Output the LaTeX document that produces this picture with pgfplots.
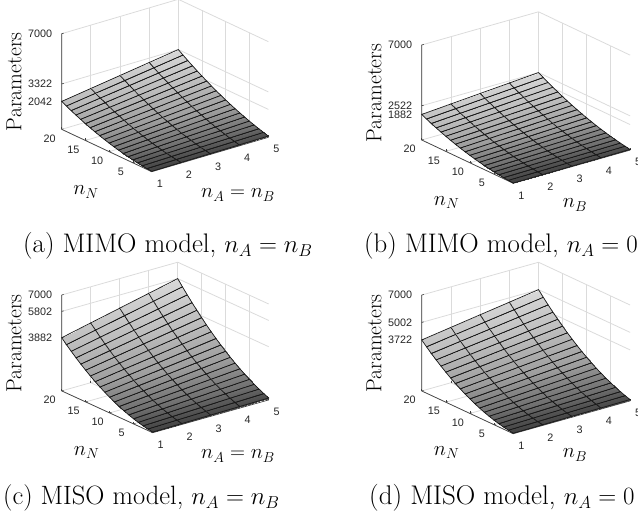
\documentclass[border=0pt]{standalone}
\usepackage{fontspec}
\usepackage{pgfplots}
\pgfplotsset{compat=1.18}
\newfontfamily\arialf{Liberation Sans}
\definecolor{axc}{gray}{0.25}
\newcommand\ztk[1]{\addplot3[axc,line width=0.6pt,forget plot] coordinates {(1,20,#1)(1.07,20,#1)};}
\pgfplotsset{
  colormap={mygray}{gray(0cm)=(0.26); gray(1cm)=(0.44); gray(3cm)=(0.62); gray(6cm)=(0.74); gray(10cm)=(0.85)},
  panel/.style={
    clip=false,
    /pgf/number format/assume math mode=true,
    /pgf/number format/.cd,set thousands separator={},/pgfplots/.cd,
    xmin=1,xmax=5,ymin=1,ymax=20,zmin=0,zmax=7000,
    xtick={1,2,3,4,5},ytick={5,10,15,20},
    xtick pos=lower,ytick pos=lower,ztick pos=left,
    grid=major,
    grid style={gray!28,line width=0.8pt},
    axis line style={draw=none},
    major tick style={axc,line width=0.5pt},
    major tick length=2pt,
    ztick style={draw=none},
    tick label style={font=\arialf\fontsize{10.8}{10.8}\selectfont,text=black!85},
    xticklabel style={anchor=center,xshift=8pt,yshift=-12pt},
    yticklabel style={anchor=center,xshift=-12pt,yshift=-9pt},
    zticklabel style={anchor=east,xshift=-6pt},
    anchor=south west,
  },
  surfst/.style={surf,shader=faceted interp,faceted color=black!90,line width=0.7pt,mesh/cols=5,point meta=z},
}
\tikzset{
  ax3/.style={axc,line width=0.7pt},
  capt/.style={anchor=base west,inner sep=0pt},
  lab/.style={anchor=center,inner sep=0pt,font=\fontsize{20}{20}\selectfont},
  par/.style={anchor=center,inner sep=0pt,rotate=90,font=\fontsize{21.8}{21.8}\selectfont},
}
\begin{document}
\begin{tikzpicture}[x=1pt,y=1pt]
\path[use as bounding box] (0,0) rectangle (638,512);
\clip (0,0) rectangle (638,512);

% (a)
\begin{axis}[panel,at={(61.7pt,340.3pt)},x={(29.15pt,8.6pt)},y={(-4.74pt,2.23pt)},z={(0pt,0.01366pt)},ztick={2042,3322,7000}]
\addplot3[ax3,forget plot] coordinates {(1,20,7000)(1,20,0)(1,1,0)(5,1,0)};
\ztk{2042}\ztk{3322}\ztk{7000}
\addplot3[surfst] coordinates {
(1,1,28)(2,1,44)(3,1,60)(4,1,76)(5,1,92)
(1,2,62)(2,2,94)(3,2,126)(4,2,158)(5,2,190)
(1,3,104)(2,3,152)(3,3,200)(4,3,248)(5,3,296)
(1,4,154)(2,4,218)(3,4,282)(4,4,346)(5,4,410)
(1,5,212)(2,5,292)(3,5,372)(4,5,452)(5,5,532)
(1,6,278)(2,6,374)(3,6,470)(4,6,566)(5,6,662)
(1,7,352)(2,7,464)(3,7,576)(4,7,688)(5,7,800)
(1,8,434)(2,8,562)(3,8,690)(4,8,818)(5,8,946)
(1,9,524)(2,9,668)(3,9,812)(4,9,956)(5,9,1100)
(1,10,622)(2,10,782)(3,10,942)(4,10,1102)(5,10,1262)
(1,11,728)(2,11,904)(3,11,1080)(4,11,1256)(5,11,1432)
(1,12,842)(2,12,1034)(3,12,1226)(4,12,1418)(5,12,1610)
(1,13,964)(2,13,1172)(3,13,1380)(4,13,1588)(5,13,1796)
(1,14,1094)(2,14,1318)(3,14,1542)(4,14,1766)(5,14,1990)
(1,15,1232)(2,15,1472)(3,15,1712)(4,15,1952)(5,15,2192)
(1,16,1378)(2,16,1634)(3,16,1890)(4,16,2146)(5,16,2402)
(1,17,1532)(2,17,1804)(3,17,2076)(4,17,2348)(5,17,2620)
(1,18,1694)(2,18,1982)(3,18,2270)(4,18,2558)(5,18,2846)
(1,19,1864)(2,19,2168)(3,19,2472)(4,19,2776)(5,19,3080)
(1,20,2042)(2,20,2362)(3,20,2682)(4,20,3002)(5,20,3322)
};
\end{axis}

% (b)
\begin{axis}[panel,at={(421.7pt,328.7pt)},x={(29.2pt,8.3pt)},y={(-4.82pt,2.28pt)},z={(0pt,0.01357pt)},ztick={1882,2522,7000}]
\addplot3[ax3,forget plot] coordinates {(1,20,7000)(1,20,0)(1,1,0)(5,1,0)};
\ztk{1882}\ztk{2522}\ztk{7000}
\addplot3[surfst] coordinates {
(1,1,20)(2,1,28)(3,1,36)(4,1,44)(5,1,52)
(1,2,46)(2,2,62)(3,2,78)(4,2,94)(5,2,110)
(1,3,80)(2,3,104)(3,3,128)(4,3,152)(5,3,176)
(1,4,122)(2,4,154)(3,4,186)(4,4,218)(5,4,250)
(1,5,172)(2,5,212)(3,5,252)(4,5,292)(5,5,332)
(1,6,230)(2,6,278)(3,6,326)(4,6,374)(5,6,422)
(1,7,296)(2,7,352)(3,7,408)(4,7,464)(5,7,520)
(1,8,370)(2,8,434)(3,8,498)(4,8,562)(5,8,626)
(1,9,452)(2,9,524)(3,9,596)(4,9,668)(5,9,740)
(1,10,542)(2,10,622)(3,10,702)(4,10,782)(5,10,862)
(1,11,640)(2,11,728)(3,11,816)(4,11,904)(5,11,992)
(1,12,746)(2,12,842)(3,12,938)(4,12,1034)(5,12,1130)
(1,13,860)(2,13,964)(3,13,1068)(4,13,1172)(5,13,1276)
(1,14,982)(2,14,1094)(3,14,1206)(4,14,1318)(5,14,1430)
(1,15,1112)(2,15,1232)(3,15,1352)(4,15,1472)(5,15,1592)
(1,16,1250)(2,16,1378)(3,16,1506)(4,16,1634)(5,16,1762)
(1,17,1396)(2,17,1532)(3,17,1668)(4,17,1804)(5,17,1940)
(1,18,1550)(2,18,1694)(3,18,1838)(4,18,1982)(5,18,2126)
(1,19,1712)(2,19,1864)(3,19,2016)(4,19,2168)(5,19,2320)
(1,20,1882)(2,20,2042)(3,20,2202)(4,20,2362)(5,20,2522)
};
\end{axis}

% (c)
\begin{axis}[panel,at={(61.7pt,79.3pt)},x={(29.0pt,8.2pt)},y={(-4.79pt,2.2pt)},z={(0pt,0.01371pt)},ztick={3882,5802,7000}]
\addplot3[ax3,forget plot] coordinates {(1,20,7000)(1,20,0)(1,1,0)(5,1,0)};
\ztk{3882}\ztk{5802}\ztk{7000}
\addplot3[surfst] coordinates {
(1,1,44)(2,1,68)(3,1,92)(4,1,116)(5,1,140)
(1,2,102)(2,2,150)(3,2,198)(4,2,246)(5,2,294)
(1,3,176)(2,3,248)(3,3,320)(4,3,392)(5,3,464)
(1,4,266)(2,4,362)(3,4,458)(4,4,554)(5,4,650)
(1,5,372)(2,5,492)(3,5,612)(4,5,732)(5,5,852)
(1,6,494)(2,6,638)(3,6,782)(4,6,926)(5,6,1070)
(1,7,632)(2,7,800)(3,7,968)(4,7,1136)(5,7,1304)
(1,8,786)(2,8,978)(3,8,1170)(4,8,1362)(5,8,1554)
(1,9,956)(2,9,1172)(3,9,1388)(4,9,1604)(5,9,1820)
(1,10,1142)(2,10,1382)(3,10,1622)(4,10,1862)(5,10,2102)
(1,11,1344)(2,11,1608)(3,11,1872)(4,11,2136)(5,11,2400)
(1,12,1562)(2,12,1850)(3,12,2138)(4,12,2426)(5,12,2714)
(1,13,1796)(2,13,2108)(3,13,2420)(4,13,2732)(5,13,3044)
(1,14,2046)(2,14,2382)(3,14,2718)(4,14,3054)(5,14,3390)
(1,15,2312)(2,15,2672)(3,15,3032)(4,15,3392)(5,15,3752)
(1,16,2594)(2,16,2978)(3,16,3362)(4,16,3746)(5,16,4130)
(1,17,2892)(2,17,3300)(3,17,3708)(4,17,4116)(5,17,4524)
(1,18,3206)(2,18,3638)(3,18,4070)(4,18,4502)(5,18,4934)
(1,19,3536)(2,19,3992)(3,19,4448)(4,19,4904)(5,19,5360)
(1,20,3882)(2,20,4362)(3,20,4842)(4,20,5322)(5,20,5802)
};
\end{axis}

% (d)
\begin{axis}[panel,at={(421.7pt,78.3pt)},x={(29.2pt,8.2pt)},y={(-4.82pt,2.25pt)},z={(0pt,0.01371pt)},ztick={3722,5002,7000}]
\addplot3[ax3,forget plot] coordinates {(1,20,7000)(1,20,0)(1,1,0)(5,1,0)};
\ztk{3722}\ztk{5002}\ztk{7000}
\addplot3[surfst] coordinates {
(1,1,36)(2,1,52)(3,1,68)(4,1,84)(5,1,100)
(1,2,86)(2,2,118)(3,2,150)(4,2,182)(5,2,214)
(1,3,152)(2,3,200)(3,3,248)(4,3,296)(5,3,344)
(1,4,234)(2,4,298)(3,4,362)(4,4,426)(5,4,490)
(1,5,332)(2,5,412)(3,5,492)(4,5,572)(5,5,652)
(1,6,446)(2,6,542)(3,6,638)(4,6,734)(5,6,830)
(1,7,576)(2,7,688)(3,7,800)(4,7,912)(5,7,1024)
(1,8,722)(2,8,850)(3,8,978)(4,8,1106)(5,8,1234)
(1,9,884)(2,9,1028)(3,9,1172)(4,9,1316)(5,9,1460)
(1,10,1062)(2,10,1222)(3,10,1382)(4,10,1542)(5,10,1702)
(1,11,1256)(2,11,1432)(3,11,1608)(4,11,1784)(5,11,1960)
(1,12,1466)(2,12,1658)(3,12,1850)(4,12,2042)(5,12,2234)
(1,13,1692)(2,13,1900)(3,13,2108)(4,13,2316)(5,13,2524)
(1,14,1934)(2,14,2158)(3,14,2382)(4,14,2606)(5,14,2830)
(1,15,2192)(2,15,2432)(3,15,2672)(4,15,2912)(5,15,3152)
(1,16,2466)(2,16,2722)(3,16,2978)(4,16,3234)(5,16,3490)
(1,17,2756)(2,17,3028)(3,17,3300)(4,17,3572)(5,17,3844)
(1,18,3062)(2,18,3350)(3,18,3638)(4,18,3926)(5,18,4214)
(1,19,3384)(2,19,3688)(3,19,3992)(4,19,4296)(5,19,4600)
(1,20,3722)(2,20,4042)(3,20,4362)(4,20,4682)(5,20,5002)
};
\end{axis}

% labels (positions in px, y flipped)
\node[par] at (14,430.3) {Parameters};
\node[par] at (374,419) {Parameters};
\node[par] at (14,168.5) {Parameters};
\node[par] at (374,168.5) {Parameters};
\node[lab] at (86,320) {$n_N$};
\node[lab] at (238,317) {$n_A=n_B$};
\node[lab] at (446.7,309.3) {$n_N$};
\node[lab] at (575,307) {$n_B$};
\node[lab] at (86.7,59.3) {$n_N$};
\node[lab] at (238,56) {$n_A=n_B$};
\node[lab] at (446.7,59.3) {$n_N$};
\node[lab] at (575,57) {$n_B$};
\node[capt,font=\fontsize{26.85}{26.85}\selectfont] at (23,259) {(a) MIMO model, $n_A=n_B$};
\node[capt,font=\fontsize{26.85}{26.85}\selectfont] at (364,259) {(b) MIMO model, $n_A=0$};
\node[capt,font=\fontsize{26.5}{26.5}\selectfont] at (3,7.5) {(c) MISO model, $n_A=n_B$};
\node[capt,font=\fontsize{27}{27}\selectfont] at (369,7.5) {(d) MISO model, $n_A=0$};
\end{tikzpicture}
\end{document}
